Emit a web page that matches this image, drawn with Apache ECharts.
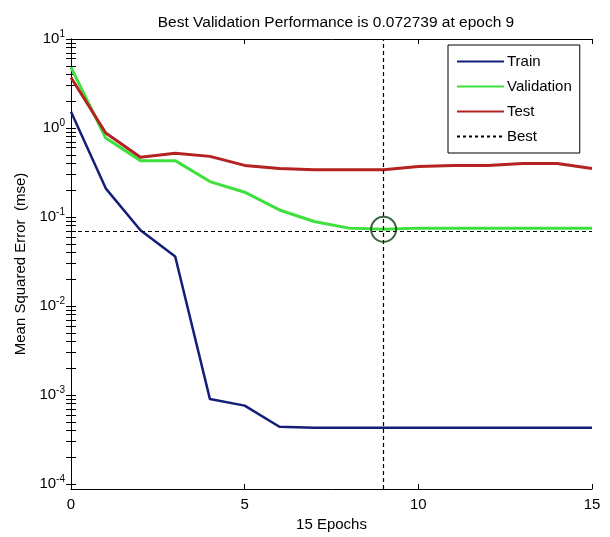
<!DOCTYPE html>
<html>
<head>
<meta charset="utf-8">
<script src="https://cdn.jsdelivr.net/npm/echarts@6/dist/echarts.min.js"></script>
<style>
  html, body { margin: 0; padding: 0; background: #fff; }
  #chart { width: 610px; height: 537px; }
</style>
</head>
<body>
<div id="chart"></div>
<script>
// epochs 0..15
const epochs = [0, 1, 2, 3, 4, 5, 6, 7, 8, 9, 10, 11, 12, 13, 14, 15];
// mse per epoch
const trainMse = [1.52, 0.21, 0.071, 0.036, 0.0009, 0.00076, 0.00044, 0.00043, 0.00043, 0.00043, 0.00043, 0.00043, 0.00043, 0.00043, 0.00043, 0.00043];
const validMse = [4.8, 0.77, 0.43, 0.43, 0.25, 0.19, 0.12, 0.089, 0.075, 0.072739, 0.075, 0.075, 0.075, 0.075, 0.075, 0.075];
const testMse  = [3.7, 0.88, 0.47, 0.52, 0.48, 0.38, 0.35, 0.34, 0.34, 0.34, 0.37, 0.38, 0.38, 0.40, 0.40, 0.35];
const bestEpoch = 9;
const bestPerf = 0.072739;
// tick labels
const xTicks = [0, 5, 10, 15];
const yDecades = [1e-4, 1e-3, 1e-2, 1e-1, 1, 10];

// minor ticks 2..9 of each decade (log axis)
const yMinor = [];
yDecades.forEach(function (d) {
  yMinor.push(d);
  if (d < 10) {
    for (let k = 2; k <= 9; k++) yMinor.push(d * k);
  }
});

const chart = echarts.init(document.getElementById('chart'));
const font = 'Liberation Sans, Arial, sans-serif';

function pairs(arr) {
  return arr.map(function (v, i) { return [epochs[i], v]; });
}

const yLabelStyle = {
  rich: {
    b: { fontSize: 15, fontFamily: font, color: '#000' },
    s: { fontSize: 10, fontFamily: font, color: '#000', padding: [0, 0, 10, 0] }
  }
};

const option = {
  animation: false,
  backgroundColor: '#fff',
  title: {
    text: 'Best Validation Performance is ' + bestPerf + ' at epoch ' + bestEpoch,
    left: 331,
    textAlign: 'center',
    top: 10,
    textStyle: { fontSize: 15.5, fontWeight: 'normal', fontFamily: font, color: '#000' }
  },
  grid: { left: 71, right: 18, top: 39, bottom: 48 },
  legend: {
    data: ['Train', 'Validation', 'Test', 'Best'],
    orient: 'vertical',
    left: 448,
    top: 45,
    padding: [9, 8, 9, 8],
    itemGap: 10,
    itemWidth: 47,
    itemHeight: 14,
    borderColor: '#000',
    borderWidth: 1,
    backgroundColor: '#fff',
    itemStyle: { opacity: 0 },
    textStyle: { fontSize: 15, fontFamily: font, color: '#000', padding: [0, 0, 0, -2] }
  },
  xAxis: [{
    type: 'value',
    min: 0,
    max: 15,
    interval: 5,
    axisLine: { lineStyle: { color: '#000', width: 1 } },
    axisTick: { inside: true, length: 5, lineStyle: { color: '#000' } },
    axisLabel: { fontSize: 15, fontFamily: font, color: '#000', margin: 8,
      customValues: xTicks },
    splitLine: { show: false },
    name: epochs.length - 1 + ' Epochs',
    nameLocation: 'middle',
    nameGap: 28,
    nameTextStyle: { fontSize: 15, fontFamily: font, color: '#000' }
  }, {
    type: 'value',
    position: 'top',
    min: 0,
    max: 15,
    interval: 5,
    axisLine: { lineStyle: { color: '#000', width: 1 } },
    axisTick: { inside: true, length: 5, lineStyle: { color: '#000' } },
    axisLabel: { show: false },
    splitLine: { show: false }
  }],
  yAxis: [{
    type: 'log',
    logBase: 10,
    min: 8.79e-5,
    max: 10,
    axisLine: { show: true, lineStyle: { color: '#000', width: 1 } },
    axisTick: { show: true, inside: true, length: 5, lineStyle: { color: '#000' },
      customValues: yMinor },
    axisLabel: Object.assign({
      margin: 6,
      customValues: yDecades,
      formatter: function (v) {
        const e = Math.round(Math.log10(v));
        return '{b|10}{s|' + e + '}';
      }
    }, yLabelStyle),
    splitLine: { show: false },
    name: 'Mean Squared Error  (mse)',
    nameLocation: 'middle',
    nameGap: 43,
    nameTextStyle: { fontSize: 15, fontFamily: font, color: '#000' }
  }, {
    type: 'log',
    logBase: 10,
    position: 'right',
    min: 8.79e-5,
    max: 10,
    axisLine: { show: true, lineStyle: { color: '#000', width: 1 } },
    axisTick: { show: true, inside: true, length: 5, lineStyle: { color: '#000' },
      customValues: yMinor },
    axisLabel: { show: false, customValues: yDecades },
    splitLine: { show: false }
  }],
  series: [
    {
      name: 'Train', type: 'line', data: pairs(trainMse), symbol: 'none',
      lineStyle: { color: '#141e78', width: 2.5 }, itemStyle: { color: '#141e78' }, z: 3
    },
    {
      name: 'Validation', type: 'line', data: pairs(validMse), symbol: 'none',
      lineStyle: { color: '#3ee03e', width: 3 }, itemStyle: { color: '#3ee03e' }, z: 3
    },
    {
      name: 'Test', type: 'line', data: pairs(testMse), symbol: 'none',
      lineStyle: { color: '#b42222', width: 3 }, itemStyle: { color: '#b42222' }, z: 3
    },
    {
      name: 'Best', type: 'line', data: [], symbol: 'none',
      lineStyle: { color: '#000', width: 1, type: [3, 3] }, itemStyle: { color: '#000' },
      z: 4,
      markLine: {
        silent: true,
        symbol: 'none',
        label: { show: false },
        lineStyle: { color: '#000', width: 1.2, type: [4, 3] },
        data: [{ xAxis: bestEpoch }, { yAxis: bestPerf }]
      }
    },
    {
      name: 'bestPoint', type: 'scatter', data: [[bestEpoch, bestPerf]],
      symbol: 'circle', symbolSize: 25, z: 5,
      itemStyle: { color: 'rgba(0,0,0,0)', borderColor: '#0c3d12', borderWidth: 2 }
    }
  ]
};

chart.setOption(option);
</script>
</body>
</html>
